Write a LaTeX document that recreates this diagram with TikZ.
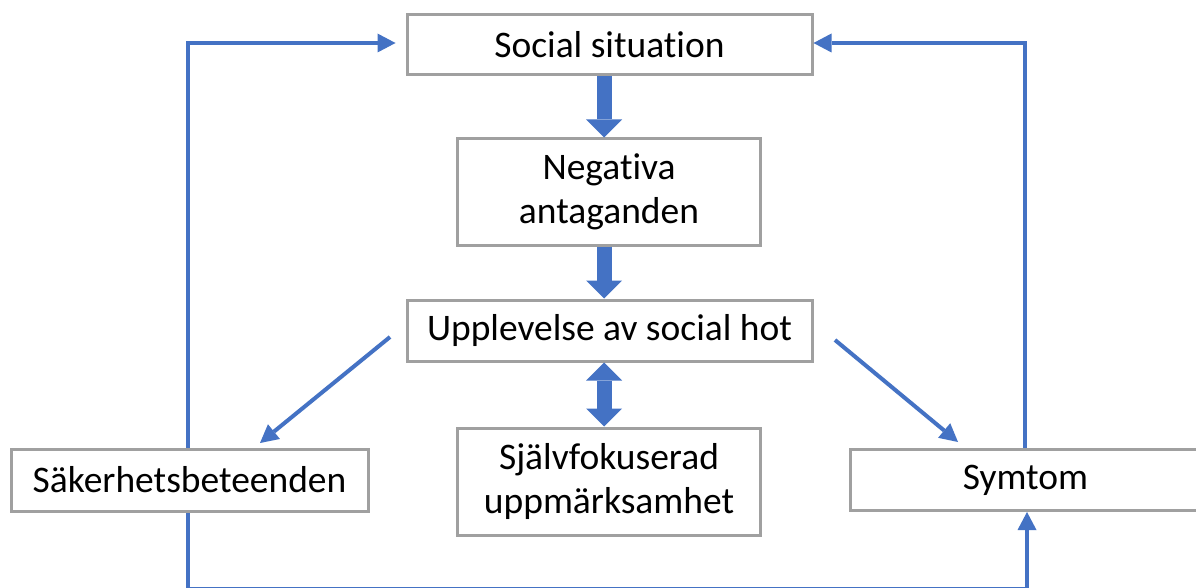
\documentclass[tikz,border=0pt]{standalone}
\usepackage{fontspec}
\setmainfont{Carlito}[Ligatures=NoCommon]
\usetikzlibrary{arrows.meta,calc}
\definecolor{flowblue}{HTML}{4472C4}
\definecolor{boxgray}{HTML}{A0A0A0}
\tikzset{
  box/.style={draw=boxgray, line width=3pt, fill=white, inner sep=0pt, align=center,
    font=\fontsize{37.5}{44}\selectfont, text=black},
  thin/.style={draw=flowblue, line width=4pt,
    -{Triangle[length=18pt,width=19pt,line width=0pt]}},
  plain/.style={draw=flowblue, line width=4pt},
  block/.style={draw=flowblue, line width=15pt,
    -{Triangle[length=18pt,width=36pt,line width=0pt]}},
  dblock/.style={draw=flowblue, line width=15pt,
    {Triangle[length=18pt,width=36pt,line width=0pt]}-{Triangle[length=18pt,width=36pt,line width=0pt]}},
}
\begin{document}
\begin{tikzpicture}[x=1pt,y=-1pt]
\path[use as bounding box, clip] (0,0) rectangle (1196,588);
\fill[white] (0,0) rectangle (1196,588);
% guide coordinates
\coordinate (ax) at (604,0);
\coordinate (lx) at (188,0);
\coordinate (rx) at (1025,0);
\coordinate (rxb) at (1027,0);
\coordinate (topy) at (0,43);
\coordinate (boty) at (0,589);
\coordinate (dl1) at (390,337);
\coordinate (dl2) at (260,443);
\coordinate (dr1) at (835,340);
\coordinate (dr2) at (958,442);
% lines behind boxes
\draw[plain] (lx |- topy) -- (lx |- boty) -- (rxb |- boty) -- (rxb |- 0,520);
% nodes
\node[box, minimum width=405pt, minimum height=60pt] (ss) at (609.5,45) {Social situation};
\node[box, minimum width=303pt, minimum height=106pt] (na) at (609,192) {Negativa\\antaganden};
\node[box, minimum width=405pt, minimum height=61pt] (uh) at (609.5,330.5) {Upplevelse av social hot};
\node[box, minimum width=303pt, minimum height=107pt] (sf) at (609,481.5) {Självfokuserad\\uppmärksamhet};
\node[box, minimum width=357pt, minimum height=62pt] (sb) at (189.5,480) {Säkerhetsbeteenden};
\node[box, minimum width=351pt, minimum height=61pt] (sy) at (1025.5,480) {Symtom};
% connectors
\draw[thin, shorten >=10pt] (sb.north -| lx) -- (lx |- topy) -- (ss.west |- topy);
\draw[thin] (sy.north -| rx) -- (rx |- topy) -- (ss.east |- topy);
\draw[thin] (rxb |- boty) -- (sy.south -| rxb);
\draw[block] (ss.south -| ax) -- (na.north -| ax);
\draw[block] (na.south -| ax) -- (uh.north -| ax);
\draw[dblock] (uh.south -| ax) -- (sf.north -| ax);
\draw[thin] (dl1) -- (dl2);
\draw[thin] (dr1) -- (dr2);
\end{tikzpicture}
\end{document}
